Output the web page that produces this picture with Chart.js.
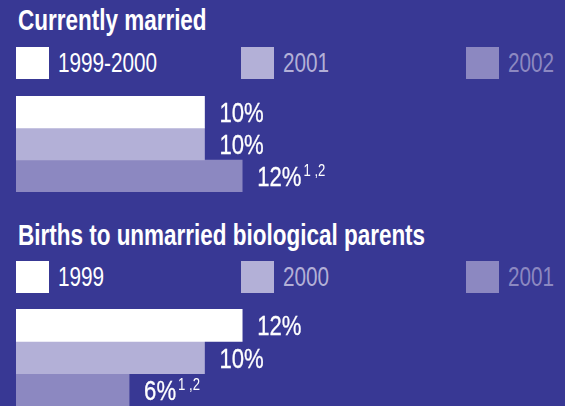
<!DOCTYPE html>
<html>
<head>
<meta charset="utf-8">
<script src="https://cdn.jsdelivr.net/npm/chart.js@4"></script>
<style>
  html, body { margin: 0; padding: 0; }
  body {
    width: 565px; height: 406px; overflow: hidden; position: relative;
    background: #383894;
    font-family: "Liberation Sans", Arial, sans-serif;
    color: #fff;
  }
  /* the original uses a condensed face; squeeze Liberation Sans horizontally */
  .title {
    position: absolute; left: 18px; margin: 0;
    font-size: 29px; font-weight: bold; line-height: 1; white-space: nowrap;
    transform: scaleX(0.775); transform-origin: left top;
  }
  .legend { position: absolute; left: 16px; display: flex; }
  .item { width: 225px; display: flex; align-items: center; }
  .box { width: 33px; height: 32px; margin-right: 9px; flex: none; }
  .item span {
    display: inline-block; font-size: 28px; line-height: 1; white-space: nowrap;
    transform: scaleX(0.74); transform-origin: left center;
  }
  canvas { position: absolute; left: 0; }
</style>
</head>
<body>
<div class="title" style="top:6px">Currently married</div>
<div class="legend" id="legend1" style="top:47px"></div>
<canvas id="married" width="565" height="96" style="top:96px"></canvas>

<div class="title" style="top:221px">Births to unmarried biological parents</div>
<div class="legend" id="legend2" style="top:261px"></div>
<canvas id="births" width="565" height="97" style="top:309px"></canvas>

<script>
// values (percent)
const marriedYears = ["1999-2000", "2001", "2002"];
const marriedValues = [10, 10, 12];
const birthsYears = ["1999", "2000", "2001"];
const birthsValues = [12, 10, 6];
const footnotes = ["", "", "1 ,2"];

const barColors = ["#ffffff", "#b3b0d7", "#8c88c1"];
const textColors = ["#ffffff", "#b3b0d7", "#8c88c1"];

function buildLegend(id, years) {
    const el = document.getElementById(id);
    years.forEach((y, i) => {
        const item = document.createElement("div");
        item.className = "item";
        item.innerHTML = '<div class="box" style="background:' + barColors[i] + '"></div>' +
            '<span style="color:' + textColors[i] + '">' + y + '</span>';
        el.appendChild(item);
    });
}

// draws "10%" after each bar, with the footnote marks raised
const valueLabels = {
    id: "valueLabels",
    afterDatasetsDraw(chart) {
        const ctx = chart.ctx;
        const size = 28;
        const squeeze = 0.79;
        ctx.save();
        ctx.fillStyle = "#ffffff";
        ctx.strokeStyle = "#ffffff";
        ctx.lineWidth = 0.3;
        ctx.textAlign = "left";
        ctx.textBaseline = "alphabetic";
        chart.data.datasets.forEach((ds, i) => {
            const bar = chart.getDatasetMeta(i).data[0];
            const text = ds.data[0] + "%";
            const x = bar.x + 15;
            const base = bar.y + 0.358 * size;
            ctx.font = size + 'px "Liberation Sans", Arial, sans-serif';
            const w = ctx.measureText(text).width * squeeze;
            ctx.save();
            ctx.translate(x, base);
            ctx.scale(squeeze, 1);
            ctx.fillText(text, 0, 0);
            ctx.strokeText(text, 0, 0);
            ctx.restore();
            if (footnotes[i]) {
                const capTop = base - 0.716 * size;
                ctx.font = '16px "Liberation Sans", Arial, sans-serif';
                ctx.save();
                ctx.translate(x + w + 2, capTop + 10);
                ctx.scale(0.82, 1);
                ctx.fillText(footnotes[i], 0, 0);
                ctx.restore();
            }
        });
        ctx.restore();
    }
};

function renderBars(canvasId, years, values) {
    return new Chart(document.getElementById(canvasId), {
        type: "bar",
        data: {
            labels: [""],
            datasets: years.map((y, i) => ({
                label: y,
                data: [values[i]],
                backgroundColor: barColors[i],
                borderWidth: 0,
                categoryPercentage: 1,
                barPercentage: 1
            }))
        },
        options: {
            indexAxis: "y",
            responsive: false,
            animation: false,
            layout: { padding: { left: 16, right: 172, top: 0, bottom: 0 } },
            plugins: { legend: { display: false }, tooltip: { enabled: false } },
            scales: {
                x: { display: false, min: 0, max: 20 },
                y: { display: false }
            }
        },
        plugins: [valueLabels]
    });
}

buildLegend("legend1", marriedYears);
buildLegend("legend2", birthsYears);
renderBars("married", marriedYears, marriedValues);
renderBars("births", birthsYears, birthsValues);
</script>
</body>
</html>
